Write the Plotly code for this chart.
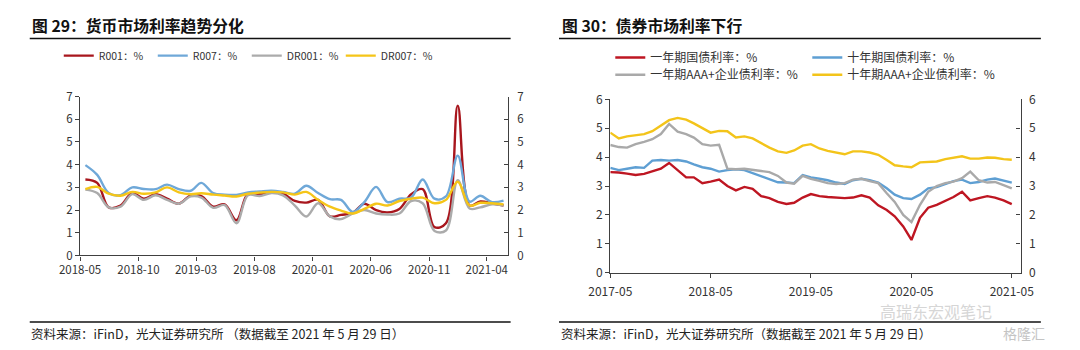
import pandas as pd
import plotly.graph_objects as go

# ---------------- Figure 29: money market rates (monthly, 2018-05 .. 2021-05) ----------------
money_start, money_end = "2018-05-01", "2021-05-01"
money_labels = ["2018-05", "2018-10", "2019-03", "2019-08", "2020-01", "2020-06", "2020-11", "2021-04"]
money_names = ["R001：%", "R007：%", "DR001：%", "DR007：%"]
r001 = [3.35, 3.2, 2.12, 2.2, 2.75, 2.5, 2.7, 2.5, 2.28, 2.65, 2.62, 2.15, 2.25, 1.55, 2.72, 2.7, 2.78, 2.72,
        2.4, 2.33, 2.45, 1.72, 1.79, 1.88, 2.28, 2.0, 1.9, 2.05, 2.7, 2.92, 1.25, 1.42, 6.6, 2.2, 2.38, 2.3, 2.2]
r007 = [3.98, 3.55, 2.75, 2.66, 3.0, 2.93, 2.92, 3.12, 2.92, 2.85, 3.2, 2.75, 2.68, 2.67, 2.78, 2.82, 2.85, 2.8,
        2.72, 3.07, 2.75, 2.48, 2.45, 1.92, 2.35, 3.02, 2.35, 2.5, 2.55, 3.35, 2.5, 2.6, 4.4, 2.37, 2.63, 2.35, 2.42]
dr001 = [2.9, 2.75, 2.12, 2.15, 2.7, 2.45, 2.65, 2.45, 2.28, 2.6, 2.55, 2.1, 2.22, 1.42, 2.65, 2.62, 2.75, 2.65,
         2.2, 1.72, 2.3, 1.72, 1.6, 1.85, 2.0, 1.85, 1.8, 1.85, 2.4, 2.3, 1.08, 1.1, 3.32, 2.07, 2.12, 2.25, 2.2]
dr007 = [2.92, 3.02, 2.72, 2.63, 2.8, 2.72, 2.78, 3.0, 2.78, 2.7, 2.74, 2.68, 2.64, 2.6, 2.72, 2.77, 2.8, 2.78,
         2.68, 2.8, 2.45, 2.15, 1.98, 1.85, 2.05, 2.28, 2.2, 2.4, 2.5, 2.55, 2.3, 2.45, 3.25, 2.2, 2.32, 2.3, 2.25]

# ---------------- Figure 30: bond market rates (monthly, 2017-05 .. 2021-05) ----------------
bond_start, bond_end = "2017-05-01", "2021-05-01"
bond_labels = ["2017-05", "2018-05", "2019-05", "2020-05", "2021-05"]
bond_names = ["一年期国债利率：%", "十年期国债利率：%", "一年期AAA+企业债利率：%", "十年期AAA+企业债利率：%"]
gov1y = [3.48, 3.47, 3.43, 3.38, 3.42, 3.5, 3.6, 3.8, 3.55, 3.3, 3.3, 3.1, 3.15, 3.22, 3.0, 2.85, 2.97, 2.9,
         2.65, 2.58, 2.45, 2.38, 2.42, 2.6, 2.72, 2.65, 2.62, 2.6, 2.58, 2.6, 2.68, 2.6, 2.33, 2.17, 1.95, 1.6,
         1.13, 1.9, 2.25, 2.35, 2.5, 2.62, 2.8, 2.5, 2.58, 2.65, 2.6, 2.5, 2.37]
gov10y = [3.63, 3.55, 3.6, 3.65, 3.63, 3.88, 3.9, 3.88, 3.9, 3.85, 3.75, 3.65, 3.6, 3.5, 3.55, 3.58, 3.55, 3.45,
          3.32, 3.22, 3.13, 3.12, 3.1, 3.38, 3.3, 3.25, 3.2, 3.12, 3.07, 3.2, 3.25, 3.2, 3.12, 2.92, 2.7, 2.58,
          2.55, 2.7, 2.92, 2.96, 3.08, 3.17, 3.22, 3.1, 3.14, 3.22, 3.26, 3.2, 3.12]
corp1y = [4.42, 4.35, 4.33, 4.45, 4.53, 4.62, 4.8, 5.15, 4.88, 4.8, 4.68, 4.45, 4.4, 4.43, 3.6, 3.58, 3.6, 3.57,
          3.52, 3.48, 3.35, 3.12, 3.08, 3.35, 3.25, 3.18, 3.1, 3.07, 3.1, 3.22, 3.25, 3.17, 3.1, 2.75, 2.45, 2.0,
          1.75, 2.35, 2.8, 3.0, 3.1, 3.15, 3.27, 3.5, 3.2, 3.12, 3.14, 3.03, 2.92]
corp10y = [4.85, 4.65, 4.72, 4.77, 4.8, 4.9, 5.1, 5.28, 5.36, 5.3, 5.17, 5.0, 4.85, 4.91, 4.9, 4.68, 4.72, 4.65,
           4.48, 4.33, 4.2, 4.15, 4.23, 4.4, 4.45, 4.3, 4.22, 4.15, 4.1, 4.2, 4.2, 4.16, 4.08, 3.9, 3.72, 3.68,
           3.65, 3.82, 3.83, 3.85, 3.93, 3.98, 4.03, 3.95, 3.95, 3.99, 3.98, 3.93, 3.91]

money_dates = pd.date_range(money_start, money_end, freq="MS") + pd.Timedelta(days=14)
bond_dates = pd.date_range(bond_start, bond_end, freq="MS")
money_tickvals = [pd.Timestamp(s + "-01") for s in money_labels]
bond_tickvals = [pd.Timestamp(s + "-01") for s in bond_labels]

money_colors = ["#A8161D", "#6FA8D8", "#ABABAB", "#F5C518"]
bond_colors = ["#BE1622", "#5E9FD3", "#A9A9A9", "#F3C41A"]

FONT = "Noto Sans CJK SC"
W, H = 1080, 350

def px(x):
    return x / W

def py(y):
    return 1 - y / H

fig = go.Figure()

for name, vals, col in zip(money_names, [r001, r007, dr001, dr007], money_colors):
    fig.add_trace(go.Scatter(x=money_dates, y=vals, name=name, mode="lines",
                             line=dict(color=col, width=2.4, shape="spline", smoothing=1.0),
                             xaxis="x", yaxis="y", legend="legend"))
fig.add_trace(go.Scatter(x=[money_dates[0]], y=[None], mode="lines", showlegend=False,
                         hoverinfo="skip", xaxis="x", yaxis="y2"))

bond_legends = ["legend2", "legend2", "legend3", "legend3"]
for name, vals, col, lg in zip(bond_names, [gov1y, gov10y, corp1y, corp10y], bond_colors, bond_legends):
    fig.add_trace(go.Scatter(x=bond_dates, y=vals, name=name, mode="lines",
                             line=dict(color=col, width=2.4),
                             xaxis="x2", yaxis="y3", legend=lg))
fig.add_trace(go.Scatter(x=[bond_dates[0]], y=[None], mode="lines", showlegend=False,
                         hoverinfo="skip", xaxis="x2", yaxis="y4"))

axis_common = dict(showline=True, linecolor="#404040", linewidth=1.3, showgrid=False, zeroline=False,
                   ticks="outside", ticklen=4, tickcolor="#404040", tickwidth=1.2)

fig.update_layout(
    width=W, height=H,
    margin=dict(l=0, r=0, t=0, b=0),
    paper_bgcolor="white", plot_bgcolor="white",
    font=dict(family=FONT, color="#333333"),
    xaxis=dict(domain=[px(60), px(502)], anchor="y", type="date",
               range=["2018-05-01", "2021-05-26"], tickvals=money_tickvals, ticktext=money_labels,
               tickfont=dict(size=11.5, color="#333333"), **axis_common),
    yaxis=dict(domain=[py(258), py(91)], anchor="x", range=[0, 7], dtick=1,
               tickfont=dict(size=11.5, color="#333333"), **axis_common),
    yaxis2=dict(overlaying="y", side="right", anchor="x", range=[0, 7], dtick=1,
                showline=True, linecolor="#404040", linewidth=1.3, showgrid=False, zeroline=False,
                ticks="inside", ticklen=4, tickcolor="#404040", tickwidth=1.2, ticklabelstandoff=6,
                tickfont=dict(size=11.5, color="#333333")),
    xaxis2=dict(domain=[px(608), px(1032)], anchor="y3", type="date",
                range=["2017-05-01", "2021-06-02"], tickvals=bond_tickvals, ticktext=bond_labels,
                ticklabelstandoff=4,
                tickfont=dict(size=12, color="#333333"), **axis_common),
    yaxis3=dict(domain=[py(276), py(94)], anchor="x2", range=[0, 6], dtick=1,
                tickfont=dict(size=12, color="#333333"), **axis_common),
    yaxis4=dict(overlaying="y3", side="right", anchor="x2", range=[0, 6], dtick=1,
                showline=True, linecolor="#404040", linewidth=1.3, showgrid=False, zeroline=False,
                ticks="inside", ticklen=4, tickcolor="#404040", tickwidth=1.2, ticklabelstandoff=5,
                tickfont=dict(size=12, color="#333333")),
    legend=dict(orientation="h", x=px(38), xanchor="left", y=py(48), yanchor="middle",
                entrywidth=49, bgcolor="rgba(0,0,0,0)",
                font=dict(size=10.5, color="#333333", family=FONT)),
    legend2=dict(orientation="h", x=px(608), xanchor="left", y=py(50), yanchor="middle",
                 entrywidth=152, bgcolor="rgba(0,0,0,0)",
                 font=dict(size=12, color="#333333", family=FONT)),
    legend3=dict(orientation="h", x=px(608), xanchor="left", y=py(68), yanchor="middle",
                 entrywidth=152, bgcolor="rgba(0,0,0,0)",
                 font=dict(size=12, color="#333333", family=FONT)),
    showlegend=True,
)

# Titles, rules and source notes
annotations = [
    dict(text="<b>图 29：货币市场利率趋势分化</b>", x=px(8), y=py(16), font=dict(size=15.8, color="#111111")),
    dict(text="<b>图 30：债券市场利率下行</b>", x=px(556), y=py(16), font=dict(size=15.8, color="#111111")),
    dict(text="资料来源：iFinD，光大证券研究所 （数据截至 2021 年 5 月 29 日）", x=px(7), y=py(340),
         font=dict(size=12.5, color="#222222")),
    dict(text="资料来源：iFinD，光大证券研究所（数据截至 2021 年 5 月 29 日）", x=px(555), y=py(340),
         font=dict(size=12.5, color="#222222")),
    dict(text="高瑞东宏观笔记", x=px(885), y=py(316), font=dict(size=16, color="#d6d6d6")),
    dict(text="格隆汇", x=px(1012), y=py(340), font=dict(size=14, color="#c4c4c4")),
]
for a in annotations:
    fig.add_annotation(xref="paper", yref="paper", xanchor="left", yanchor="middle", showarrow=False,
                       font_family=FONT, **a)

rules = [(8, 505, 30), (555, 1053, 30), (8, 505, 328), (555, 1053, 328)]
for x0, x1, y in rules:
    fig.add_shape(type="line", xref="paper", yref="paper", x0=px(x0), x1=px(x1), y0=py(y), y1=py(y),
                  line=dict(color="#111111", width=1.4))

fig.write_html("out.html")
